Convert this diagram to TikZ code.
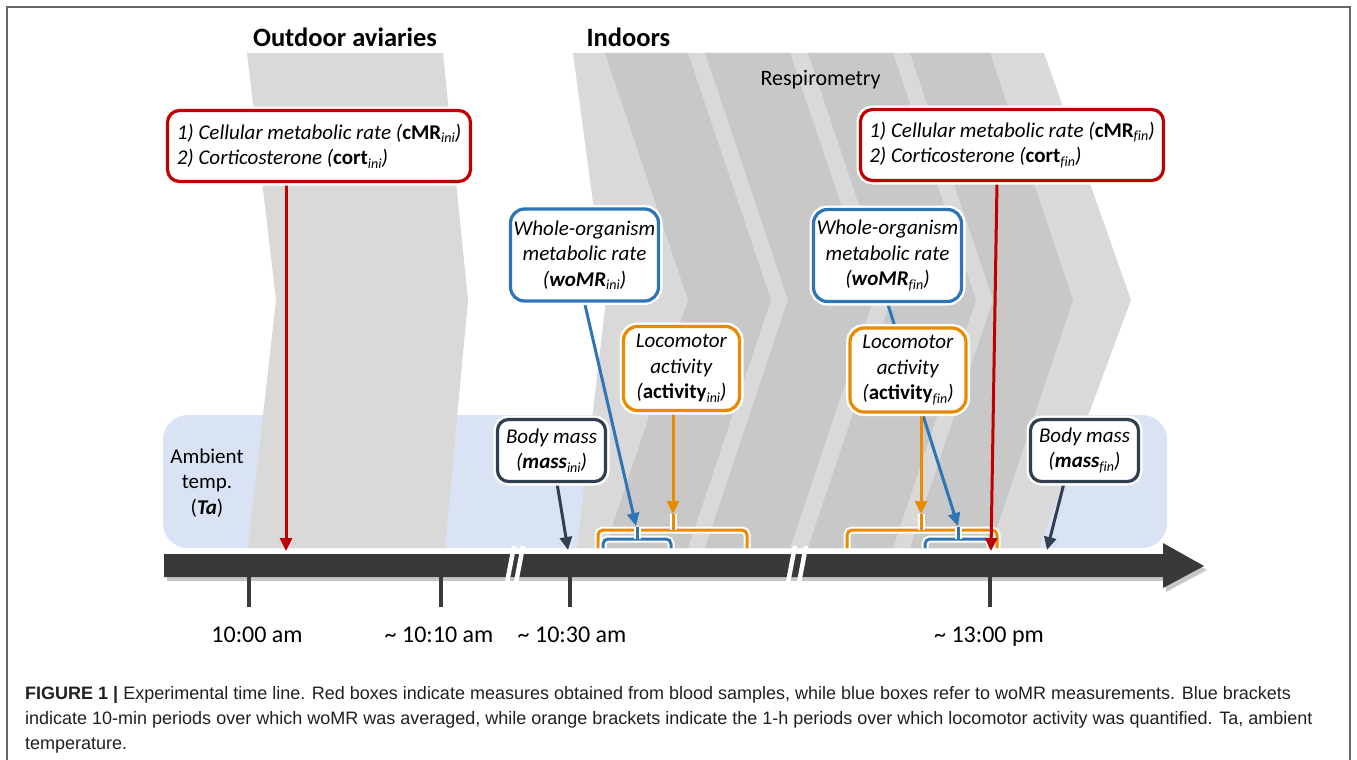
\documentclass[tikz,border=0pt]{standalone}
\usepackage{fontspec}
\setmainfont{Carlito}
\newfontfamily\capfont{Liberation Sans}
\usetikzlibrary{arrows.meta,calc}
\definecolor{cred}{HTML}{C00000}
\definecolor{cblue}{HTML}{2E75B6}
\definecolor{corange}{HTML}{EA8A00}
\definecolor{cslate}{HTML}{323F4F}
\definecolor{tline}{HTML}{3B3838}
\definecolor{lblue}{HTML}{DAE3F3}
\definecolor{glight}{HTML}{D9D9D9}
\definecolor{gdark}{HTML}{C8C8C8}
\definecolor{frame}{HTML}{666666}
\definecolor{captxt}{HTML}{231F20}
\newcommand{\lowtxt}[1]{\raisebox{-0.35ex}{\fontsize{14}{14}\selectfont\itshape #1}}
\newcommand{\finsub}{\lowtxt{f\kern0pt in}}
\pgfdeclarelayer{back}
\pgfdeclarelayer{mid}
\pgfsetlayers{back,mid,main}
\begin{document}
\begin{tikzpicture}[x=1pt,y=-1pt,
  box/.style={draw, fill=white, line width=3.2pt, rounded corners=14pt, align=center,
    inner sep=0pt, font=\fontsize{21}{25.5}\selectfont, preaction={draw=white, line width=8pt}},
  redbox/.style={box, draw=cred, rounded corners=12pt, align=left, minimum width=303pt, minimum height=71pt},
  bluebox/.style={box, draw=cblue, minimum width=148pt, minimum height=92pt},
  orbox/.style={box, draw=corange, minimum width=116pt, minimum height=84pt},
  massbox/.style={box, draw=cslate, rounded corners=11pt, minimum width=108pt, minimum height=62pt},
  conn/.style={line width=3pt, -{Triangle[length=13pt,width=12pt]}},
  brk/.style={line width=3pt, rounded corners=5pt, preaction={draw=white, line width=7pt}},
  tickmark/.style={line width=4pt, draw=tline},
  tlabel/.style={anchor=base, font=\fontsize{24}{28}\selectfont},
  title/.style={anchor=base, font=\fontsize{26.5}{30}\selectfont\bfseries},
  capline/.style={anchor=base west, inner sep=0pt, text=captxt, font=\capfont\fontsize{18}{22}\selectfont},
]
\useasboundingbox (0,0) rectangle (1357,760);

\begin{pgfonlayer}{back}
  \fill[white] (0,0) rectangle (1357,760);
  % ambient temperature band
  \fill[lblue, rounded corners=25pt] (163,415) rectangle (1167,548);
  % outdoor chevron
  \fill[glight] (247,53) -- (443,53) -- (468,300) -- (445,548) -- (248,548) -- (276,300) -- cycle;
  % indoor chevrons
  \fill[glight] (573,53) -- (1044,53) -- (1131,300) -- (1039,548) -- (577,548) -- (606,300) -- cycle;
  \foreach \a/\b in {605/688, 705/790, 808/893, 910/990}
    \fill[gdark] (\a,53) -- (\b,53) -- ({\b+83},300) -- (\b,548) -- (\a,548) -- ({\a+83},300) -- cycle;
\end{pgfonlayer}

\draw[frame, line width=1.2pt] (7,762) -- (7,7) -- (1350,7) -- (1350,762);

% titles
\node[title] (tout) at (345,47) {Outdoor aviaries};
\node[title, anchor=base west] (tin) at (583,47) {Indoors};
\node[anchor=base west, font=\fontsize{22}{26}\selectfont] (resp) at (757,85) {Respirometry};

% ambient temperature label
\node[align=center, font=\fontsize{21}{25.5}\selectfont] (ta) at (207,483) {Ambient\\temp.\\(\textbf{\textit{Ta}})};

% boxes
\node[redbox] (redini) at (319,146) {\textit{1) Cellular metabolic rate (}\textbf{cMR}\lowtxt{ini}\textit{)}\\\textit{2) Corticosterone (}\textbf{cort}\lowtxt{ini}\textit{)}};
\node[redbox] (redfin) at (1012,145) {\textit{1) Cellular metabolic rate (}\textbf{cMR}\finsub\textit{)}\\\textit{2) Corticosterone (}\textbf{cort}\finsub\textit{)}};
\node[bluebox] (woini) at (584.5,255) {\textit{Whole-organism}\\\textit{metabolic rate}\\\textit{(}\textbf{\textit{woMR}}\lowtxt{ini}\textit{)}};
\node[bluebox] (wofin) at (887.5,255.5) {\textit{Whole-organism}\\\textit{metabolic rate}\\\textit{(}\textbf{\textit{woMR}}\finsub\textit{)}};
\node[orbox] (actini) at (681.5,368.5) {\textit{Locomotor}\\\textit{activity}\\\textit{(}\textbf{activity}\lowtxt{ini}\textit{)}};
\node[orbox] (actfin) at (908,370) {\textit{Locomotor}\\\textit{activity}\\\textit{(}\textbf{activity}\finsub\textit{)}};
\node[massbox] (massini) at (551.5,450.5) {\textit{Body mass}\\\textit{(}\textbf{\textit{mass}}\lowtxt{ini}\textit{)}};
\node[massbox] (massfin) at (1084.5,450.5) {\textit{Body mass}\\\textit{(}\textbf{\textit{mass}}\finsub\textit{)}};

% bracket stem tops / arrow ends
\coordinate (oistem) at (673,514);
\coordinate (bistem) at (636,526);
\coordinate (ofstem) at (921,514);
\coordinate (bfstem) at (958,526);
\coordinate (r1end) at (286,551);
\coordinate (r2end) at (991,551);
\coordinate (m1end) at (568,550);
\coordinate (m2end) at (1047,550);

\begin{pgfonlayer}{mid}
  % brackets
  \draw[brk, corange] (598,548) |- (747,530) -- (747,548);
  \draw[brk, corange] (673,530) -- (oistem);
  \draw[brk, corange] (847,548) |- (997,530) -- (997,548);
  \draw[brk, corange] (921,530) -- (ofstem);
  \draw[brk, cblue] (603,548) |- (671,539) -- (671,548);
  \draw[brk, cblue] (637,539) -- (637,527);
  \draw[brk, cblue] (925,548) |- (990,539) -- (990,548);
  \draw[brk, cblue] (958,539) -- (958,527);
  % connectors
  \draw[conn, cred] ($(redini.south)+(-33,0)$) -- (r1end);
  \draw[conn, cred] ($(redfin.south)+(-15,0)$) -- (r2end);
  \draw[conn, cblue] (woini.south) -- (bistem);
  \draw[conn, cblue] (wofin.south) -- (bfstem);
  \draw[conn, corange] ($(actini.south)+(-8.5,0)$) -- (oistem);
  \draw[conn, corange] ($(actfin.south)+(13,0)$) -- (ofstem);
  \draw[conn, cslate] ($(massini.south)+(5.5,0)$) -- (m1end);
  \draw[conn, cslate] ($(massfin.south)+(-20.5,0)$) -- (m2end);
\end{pgfonlayer}

% time line
\fill[black, opacity=0.22] (167,558) -- (1166,558) -- (1166,547) -- (1207,570) -- (1166,592) -- (1166,581) -- (167,581) -- cycle;
\fill[tline] (164,554) -- (1163,554) -- (1163,543) -- (1204,566) -- (1163,588) -- (1163,577) -- (164,577) -- cycle;
\draw[white, line width=4.5pt] (514,546) -- (506,588) (523,546) -- (515,588);
\draw[white, line width=4.5pt] (795,546) -- (787,588) (806,546) -- (798,588);
\draw[tickmark] (249,577) -- (249,607);
\draw[tickmark] (441,577) -- (441,607);
\draw[tickmark] (570,577) -- (570,607);
\draw[tickmark] (990,577) -- (990,607);

\node[tlabel] (t1) at (257,642) {10:00 am};
\node[tlabel] (t2) at (439,642) {\~{} 10:10 am};
\node[tlabel] (t3) at (572,642) {\~{} 10:30 am};
\node[tlabel] (t4) at (989,642) {\~{} 13:00 pm};

% caption
\node[capline] (c1) at (25,699) {\textbf{FIGURE 1 |} Experimental time line. Red boxes indicate measures obtained from blood samples, while blue boxes refer to woMR measurements. Blue brackets};
\node[capline] (c2) at (25,724) {indicate 10-min periods over which woMR was averaged, while orange brackets indicate the 1-h periods over which locomotor activity was quantified. Ta, ambient};
\node[capline] (c3) at (25,749) {temperature.};
\end{tikzpicture}
\end{document}
